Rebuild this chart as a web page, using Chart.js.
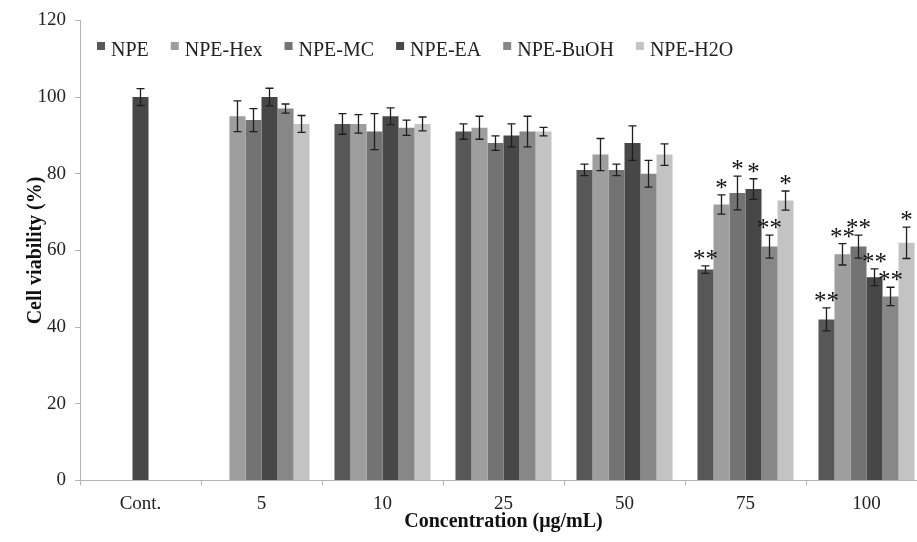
<!DOCTYPE html>
<html>
<head>
<meta charset="utf-8">
<script src="https://cdn.jsdelivr.net/npm/chart.js@4.4.1/dist/chart.umd.min.js"></script>
<style>
  html, body { margin: 0; padding: 0; background: #fff; overflow: hidden; }
  #wrap { width: 917px; height: 542px; overflow: hidden; }
</style>
</head>
<body>
<div id="wrap"><canvas id="c" width="930" height="542"></canvas></div>
<script>
// concentrations (µg/mL)
const categories = ['Cont.', '5', '10', '25', '50', '75', '100'];
const seriesNames = ['NPE', 'NPE-Hex', 'NPE-MC', 'NPE-EA', 'NPE-BuOH', 'NPE-H2O'];
const colors = ['#575757', '#9e9e9e', '#737373', '#474747', '#878787', '#c3c3c3'];
const controlColor = '#474747';

// mean cell viability (%)
const npe     = [100, null, 93, 91, 81, 55, 42];
const npeHex  = [null, 95, 93, 92, 85, 72, 59];
const npeMC   = [null, 94, 91, 88, 81, 75, 61];
const npeEA   = [null, 100, 95, 90, 88, 76, 53];
const npeBuOH = [null, 97, 92, 91, 80, 61, 48];
const npeH2O  = [null, 93, 93, 91, 85, 73, 62];

// standard deviations
const npeErr     = [2.2, null, 2.7, 2.0, 1.5, 1.0, 3.0];
const npeHexErr  = [null, 4.0, 2.4, 3.0, 4.2, 2.5, 2.8];
const npeMCErr   = [null, 3.0, 4.7, 1.9, 1.5, 4.4, 3.0];
const npeEAErr   = [null, 2.3, 2.2, 3.0, 4.5, 2.7, 2.2];
const npeBuOHErr = [null, 1.2, 2.0, 4.0, 3.5, 3.0, 2.4];
const npeH2OErr  = [null, 2.2, 1.8, 1.1, 2.8, 2.5, 4.1];

// significance marks
const npeSig     = ['', '', '', '', '', '**', '**'];
const npeHexSig  = ['', '', '', '', '', '*', '**'];
const npeMCSig   = ['', '', '', '', '', '*', '**'];
const npeEASig   = ['', '', '', '', '', '*', '**'];
const npeBuOHSig = ['', '', '', '', '', '**', '**'];
const npeH2OSig  = ['', '', '', '', '', '*', '*'];

const values = [npe, npeHex, npeMC, npeEA, npeBuOH, npeH2O];
const errors = [npeErr, npeHexErr, npeMCErr, npeEAErr, npeBuOHErr, npeH2OErr];
const marks = [npeSig, npeHexSig, npeMCSig, npeEASig, npeBuOHSig, npeH2OSig];

const SERIF = '"Liberation Serif", "Times New Roman", serif';
const AXIS = '#b4b4b4';

// error bars + asterisks, drawn from the bar elements and the y scale
const errorBars = {
  id: 'errorBars',
  afterDatasetsDraw(chart) {
    const ctx = chart.ctx;
    const y = chart.scales.y;
    ctx.save();
    ctx.strokeStyle = '#1e1e1e';
    ctx.lineWidth = 1.3;
    ctx.fillStyle = '#111';
    ctx.font = '25px ' + SERIF;
    ctx.textAlign = 'center';
    ctx.textBaseline = 'alphabetic';
    chart.data.datasets.forEach((ds, i) => {
      const meta = chart.getDatasetMeta(i);
      meta.data.forEach((bar, j) => {
        const v = ds.data[j];
        const e = errors[i][j];
        if (v == null || e == null) return;
        const top = y.getPixelForValue(v + e);
        const bot = y.getPixelForValue(v - e);
        const x = bar.x;
        ctx.beginPath();
        ctx.moveTo(x, top); ctx.lineTo(x, bot);
        ctx.moveTo(x - 4, top); ctx.lineTo(x + 4, top);
        ctx.moveTo(x - 4, bot); ctx.lineTo(x + 4, bot);
        ctx.stroke();
        const m = marks[i][j];
        if (m) ctx.fillText(m, x, top + 1);
      });
    });
    ctx.restore();
  }
};

// legend sits inside the plot area, so draw it by hand
const innerLegend = {
  id: 'innerLegend',
  afterDraw(chart) {
    const ctx = chart.ctx;
    ctx.save();
    ctx.font = '20px ' + SERIF;
    ctx.textBaseline = 'alphabetic';
    ctx.textAlign = 'left';
    let x = 97;
    seriesNames.forEach((name, i) => {
      ctx.fillStyle = colors[i];
      ctx.fillRect(x, 42, 8, 8);
      ctx.fillStyle = '#222';
      ctx.fillText(name, x + 14, 56);
      x += 14 + ctx.measureText(name).width + 22;
    });
    ctx.restore();
  }
};

const datasets = seriesNames.map((name, i) => ({
  label: name,
  data: values[i],
  backgroundColor: i === 0 ? (c) => (c.dataIndex === 0 ? controlColor : colors[0]) : colors[i],
  borderWidth: 0,
  categoryPercentage: 0.794,
  barPercentage: 1.0,
  skipNull: i === 0,
  maxBarThickness: i === 0 ? 16 : undefined,
}));

new Chart(document.getElementById('c'), {
  type: 'bar',
  data: { labels: categories, datasets },
  options: {
    responsive: false,
    animation: false,
    layout: { padding: { top: 18, right: 3, left: 0, bottom: 0 } },
    plugins: { legend: { display: false }, tooltip: { enabled: false } },
    scales: {
      x: {
        grid: { drawOnChartArea: false, color: AXIS, tickLength: 5, offset: true },
        border: { color: AXIS },
        ticks: { color: '#222', font: { family: SERIF, size: 19 }, padding: 7 },
        title: {
          display: true, text: 'Concentration (μg/mL)', color: '#111',
          font: { family: SERIF, size: 20, weight: 'bold' }, padding: { top: 0, bottom: 8 }
        },
        afterFit(s) { s.height = 61.5; }
      },
      y: {
        min: 0, max: 120,
        grid: { drawOnChartArea: false, color: AXIS, tickLength: 5 },
        border: { color: AXIS },
        ticks: { stepSize: 20, color: '#222', font: { family: SERIF, size: 19 }, padding: 9 },
        title: {
          display: true, text: 'Cell viability (%)', color: '#111',
          font: { family: SERIF, size: 20, weight: 'bold' }, padding: { top: 24, bottom: 0 }
        },
        afterFit(s) { s.width = 80; }
      }
    }
  },
  plugins: [errorBars, innerLegend]
});
</script>
</body>
</html>
